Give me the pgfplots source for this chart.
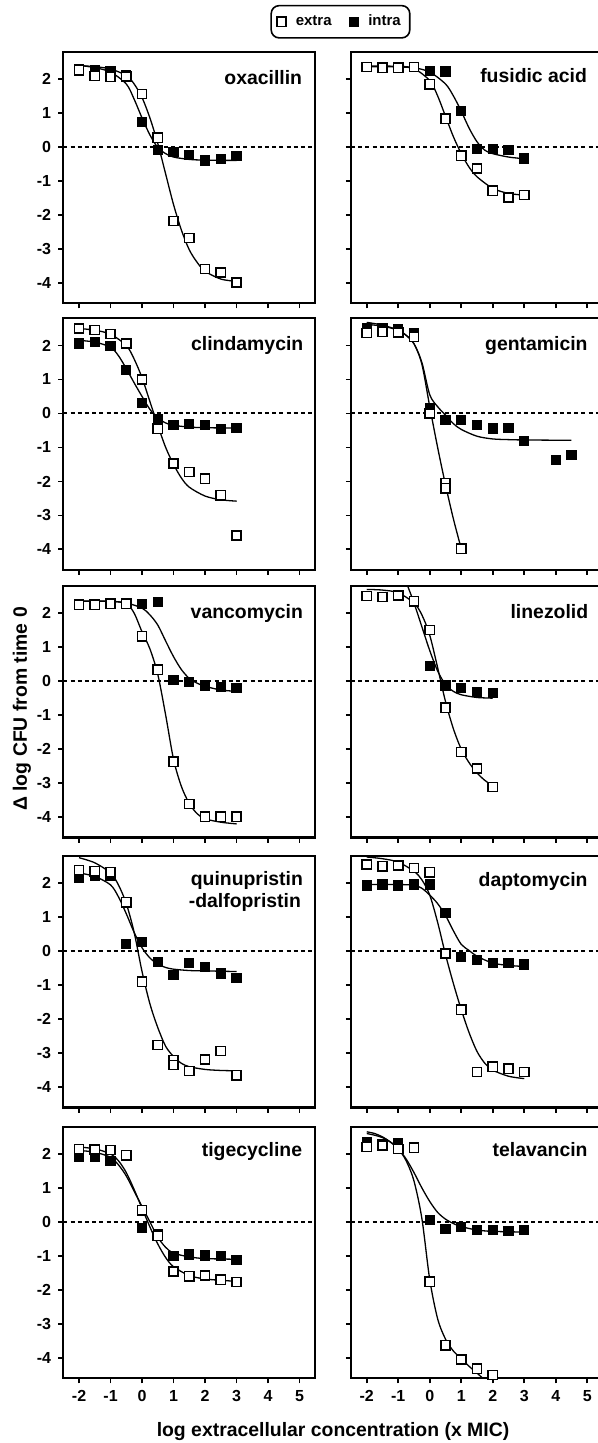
\documentclass[border=0pt]{standalone}
\usepackage{pgfplots}
\pgfplotsset{compat=1.18}
\usepackage{fontspec}
\setmainfont{Liberation Sans}
\pgfplotsset{
  panel/.style={scale only axis, width=126pt, height=125.75pt,
    xmin=-2.5, xmax=5.5, ymin=-4.6, ymax=2.8,
    xtick={-2,-1,0,1,2,3,4,5}, ytick={-4,-3,-2,-1,0,1,2},
    xticklabels={}, yticklabels={},
    tick align=outside, xtick pos=bottom, ytick pos=left,
    major tick length=2.6pt,
    axis line style={line width=1.1pt},
    major tick style={line width=0.9pt, black},
    tick label style={font=\bfseries\fontsize{8}{9.6}\selectfont},
    clip=true},
  ext/.style={only marks, mark=square*, mark size=2.3pt,
    mark options={fill=white, draw=black, line width=0.7pt, sharp corners, solid}},
  int/.style={only marks, mark=square*, mark size=2.3pt,
    mark options={fill=black, draw=black, line width=0.5pt, sharp corners, solid}},
  fit/.style={smooth, black, line width=0.65pt, no marks, forget plot},
  zero/.style={black, line width=1pt, dash pattern=on 2pt off 1.6pt, no marks, forget plot},
}
\newcommand{\ttl}{\bfseries\fontsize{9.7}{11.5}\selectfont}
\begin{document}
\begin{tikzpicture}
\useasboundingbox (0,0) rectangle (299pt,721.5pt);
\clip (0,0) rectangle (299pt,721.5pt);

% ---------- Row 1 left: oxacillin
\begin{axis}[panel, at={(31.65pt,569.9pt)}, yticklabels={-4,-3,-2,-1,0,1,2},
  legend columns=2,
  legend style={at={(1.1,1.119)}, anchor=center, draw=black, line width=0.8pt,
    rounded corners=4pt, font=\bfseries\fontsize{7.5}{9}\selectfont,
    inner xsep=2.5pt, inner ysep=2.6pt,
    /tikz/every even column/.append style={column sep=6.5pt}},
  legend image code/.code={\draw[#1] plot coordinates {(0pt,0pt)};\path[draw=none,fill=none] (-2.6pt,0pt) (5.2pt,0pt);}]
\addlegendimage{ext}\addlegendentry{extra}
\addlegendimage{int}\addlegendentry{intra}
\addplot[zero] coordinates {(-2.5,0) (5.5,0)};
\addplot[fit] coordinates {(-2,2.39)(-1.5,2.36)(-1,2.29)(-0.5,2.1)(-0.25,1.85)(0,1.45)(0.25,0.85)(0.5,0.1)(0.75,-0.8)(1,-1.7)(1.25,-2.45)(1.5,-3.03)(1.75,-3.4)(2,-3.66)(2.5,-3.89)(3,-3.96)};
\addplot[fit] coordinates {(-2,2.4)(-1.5,2.33)(-1,2.2)(-0.5,1.85)(-0.25,1.4)(0,0.85)(0.25,0.35)(0.5,-0.02)(0.75,-0.2)(1,-0.3)(1.5,-0.37)(2,-0.39)(3,-0.4)};
\addplot[int, forget plot] coordinates {(-2,2.3)(-1.5,2.25)(-1,2.22)(-0.5,2.1)(0,0.72)(0.5,-0.09)(1,-0.15)(1.5,-0.25)(2,-0.4)(2.5,-0.36)(3,-0.27)};
\addplot[ext, forget plot] coordinates {(-2,2.25)(-1.5,2.08)(-1,2.06)(-0.5,2.07)(0,1.55)(0.5,0.27)(1,-2.18)(1.5,-2.68)(2,-3.6)(2.5,-3.7)(3,-3.99)};
\node[anchor=base east, inner sep=0pt, xshift=-6.4pt, yshift=-16.2pt, font=\ttl] at (rel axis cs:1,1) {oxacillin};
\end{axis}

% ---------- Row 1 right: fusidic acid
\begin{axis}[panel, at={(175.5pt,569.9pt)}]
\addplot[zero] coordinates {(-2.5,0) (5.5,0)};
\addplot[fit] coordinates {(-2,2.36)(-1,2.35)(-0.5,2.3)(0,1.95)(0.25,1.5)(0.5,0.9)(0.75,0.3)(1,-0.2)(1.25,-0.6)(1.5,-0.88)(2,-1.22)(2.5,-1.37)(3,-1.42)};
\addplot[fit] coordinates {(-2,2.38)(-1,2.37)(-0.5,2.33)(0,2.2)(0.5,1.85)(0.75,1.5)(1,1.05)(1.25,0.55)(1.5,0.15)(1.75,-0.1)(2,-0.2)(2.5,-0.3)(3,-0.35)};
\addplot[int] coordinates {(-2,2.35)(-1.5,2.33)(-1,2.33)(-0.5,2.35)(0,2.24)(0.5,2.22)(1,1.05)(1.5,-0.07)(2,-0.07)(2.5,-0.09)(3,-0.34)};
\addplot[ext] coordinates {(-2,2.35)(-1.5,2.33)(-1,2.33)(-0.5,2.35)(0,1.84)(0.5,0.83)(1,-0.26)(1.5,-0.64)(2,-1.29)(2.5,-1.49)(3,-1.42)};
\node[anchor=base east, inner sep=0pt, xshift=-7.8pt, yshift=-15.5pt, font=\ttl] at (rel axis cs:1,1) {fusidic acid};
\end{axis}

% ---------- Row 2 left: clindamycin
\begin{axis}[panel, at={(31.65pt,436.6pt)}, yticklabels={-4,-3,-2,-1,0,1,2}]
\addplot[zero] coordinates {(-2.5,0) (5.5,0)};
\addplot[fit] coordinates {(-2,2.5)(-1.5,2.45)(-1,2.33)(-0.5,2.0)(-0.25,1.6)(0,1.05)(0.25,0.35)(0.5,-0.35)(0.75,-1.0)(1,-1.5)(1.25,-1.9)(1.5,-2.17)(2,-2.43)(2.5,-2.54)(3,-2.58)};
\addplot[fit] coordinates {(-2,2.15)(-1.5,2.1)(-1,1.95)(-0.75,1.7)(-0.5,1.32)(-0.25,0.9)(0,0.5)(0.25,0.12)(0.5,-0.13)(0.75,-0.28)(1,-0.35)(1.5,-0.4)(2,-0.42)(3,-0.43)};
\addplot[int] coordinates {(-2,2.06)(-1.5,2.11)(-1,1.98)(-0.5,1.27)(0,0.31)(0.5,-0.18)(1,-0.35)(1.5,-0.32)(2,-0.35)(2.5,-0.45)(3,-0.43)};
\addplot[ext] coordinates {(-2,2.5)(-1.5,2.45)(-1,2.34)(-0.5,2.06)(0,1.0)(0.5,-0.45)(1,-1.47)(1.5,-1.72)(2,-1.92)(2.5,-2.41)(3,-3.59)};
\node[anchor=base east, inner sep=0pt, xshift=-5.8pt, yshift=-16pt, font=\ttl] at (rel axis cs:1,1) {clindamycin};
\end{axis}

% ---------- Row 2 right: gentamicin
\begin{axis}[panel, at={(175.5pt,436.6pt)}]
\addplot[zero] coordinates {(-2.5,0) (5.5,0)};
\addplot[fit] coordinates {(-2,2.68)(-1.5,2.6)(-1,2.45)(-0.75,2.3)(-0.5,2.05)(-0.25,1.45)(0,0.2)(0.25,-1.0)(0.5,-2.1)(0.75,-3.1)(1,-3.98)};
\addplot[fit] coordinates {(-2,2.62)(-1.5,2.57)(-1,2.45)(-0.75,2.3)(-0.5,2.05)(-0.25,1.5)(0,0.55)(0.25,0.2)(0.5,-0.05)(0.75,-0.3)(1,-0.47)(1.5,-0.67)(2,-0.75)(2.5,-0.77)(3,-0.78)(4.5,-0.79)};
\addplot[int] coordinates {(-2,2.52)(-1.5,2.52)(-1,2.49)(-0.5,2.37)(0,0.17)(0.5,-0.2)(1,-0.2)(1.5,-0.35)(2,-0.44)(2.5,-0.42)(3,-0.82)(4,-1.38)(4.5,-1.23)};
\addplot[ext] coordinates {(-2,2.37)(-1.5,2.4)(-1,2.38)(-0.5,2.25)(0,0.0)(0.5,-2.05)(0.5,-2.2)(1,-3.98)};
\node[anchor=base east, inner sep=0pt, xshift=-7.5pt, yshift=-16pt, font=\ttl] at (rel axis cs:1,1) {gentamicin};
\end{axis}

% ---------- Row 3 left: vancomycin
\begin{axis}[panel, at={(31.65pt,302.75pt)}, yticklabels={-4,-3,-2,-1,0,1,2}]
\addplot[zero] coordinates {(-2.5,0) (5.5,0)};
\addplot[fit] coordinates {(-2,2.35)(-1,2.35)(-0.5,2.28)(-0.25,2.0)(0,1.45)(0.25,0.95)(0.5,0.2)(0.75,-1.0)(1,-2.3)(1.25,-3.1)(1.5,-3.6)(1.75,-3.9)(2,-4.05)(2.5,-4.15)(3,-4.2)};
\addplot[fit] coordinates {(-2,2.36)(-1,2.35)(-0.5,2.3)(0,2.15)(0.25,1.95)(0.5,1.65)(0.75,1.18)(1,0.72)(1.25,0.34)(1.5,0.08)(1.75,-0.06)(2,-0.15)(2.5,-0.26)(3,-0.3)};
\addplot[int] coordinates {(-2,2.28)(-1.5,2.28)(-1,2.3)(-0.5,2.28)(0,2.28)(0.5,2.33)(1,0.03)(1.5,-0.02)(2,-0.13)(2.5,-0.17)(3,-0.2)};
\addplot[ext] coordinates {(-2,2.25)(-1.5,2.25)(-1,2.28)(-0.5,2.28)(0,1.32)(0.5,0.34)(1,-2.37)(1.5,-3.61)(2,-3.99)(2.5,-3.99)(3,-3.99)};
\node[anchor=base east, inner sep=0pt, xshift=-6pt, yshift=-16pt, font=\ttl] at (rel axis cs:1,1) {vancomycin};
\end{axis}

% ---------- Row 3 right: linezolid
\begin{axis}[panel, at={(175.5pt,302.75pt)}]
\addplot[zero] coordinates {(-2.5,0) (5.5,0)};
\addplot[fit] coordinates {(-2,2.7)(-1.5,2.68)(-1,2.6)(-0.5,2.3)(-0.25,1.95)(0,1.35)(0.25,0.4)(0.5,-0.6)(0.75,-1.4)(1,-2.0)(1.25,-2.4)(1.5,-2.7)(1.75,-2.92)(2,-3.08)};
\addplot[fit] coordinates {(-1.25,3.6)(-1,3.3)(-0.75,2.9)(-0.5,2.3)(-0.25,1.6)(0,0.9)(0.25,0.3)(0.5,-0.1)(0.75,-0.3)(1,-0.4)(1.5,-0.48)(2,-0.5)};
\addplot[int] coordinates {(-2,2.5)(-1.5,2.48)(-1,2.5)(-0.5,2.35)(0,0.44)(0.5,-0.13)(1,-0.2)(1.5,-0.31)(2,-0.34)};
\addplot[ext] coordinates {(-2,2.5)(-1.5,2.48)(-1,2.52)(-0.5,2.35)(0,1.5)(0.5,-0.78)(1,-2.09)(1.5,-2.57)(2,-3.11)};
\node[anchor=base east, inner sep=0pt, xshift=-7.2pt, yshift=-16pt, font=\ttl] at (rel axis cs:1,1) {linezolid};
\end{axis}

% ---------- Row 4 left: quinupristin-dalfopristin
\begin{axis}[panel, at={(31.65pt,167.75pt)}, yticklabels={-4,-3,-2,-1,0,1,2}]
\addplot[zero] coordinates {(-2.5,0) (5.5,0)};
\addplot[fit] coordinates {(-2,2.75)(-1.5,2.6)(-1,2.3)(-0.75,1.95)(-0.5,1.4)(-0.25,0.55)(0,-0.6)(0.25,-1.55)(0.5,-2.25)(0.75,-2.8)(1,-3.1)(1.25,-3.3)(1.5,-3.4)(2,-3.48)(2.5,-3.51)(3,-3.52)};
\addplot[fit] coordinates {(-2,2.3)(-1.5,2.2)(-1,1.95)(-0.75,1.6)(-0.5,1.1)(-0.25,0.55)(0,0.1)(0.25,-0.2)(0.5,-0.38)(0.75,-0.48)(1,-0.53)(1.5,-0.57)(2,-0.58)(3,-0.6)};
\addplot[int] coordinates {(-2,2.16)(-1.5,2.2)(-1,2.2)(-0.5,0.2)(0,0.26)(0.5,-0.31)(1,-0.69)(1.5,-0.36)(2,-0.46)(2.5,-0.66)(3,-0.78)};
\addplot[ext] coordinates {(-2,2.38)(-1.5,2.35)(-1,2.32)(-0.5,1.44)(0,-0.9)(0.5,-2.76)(1,-3.2)(1,-3.35)(1.5,-3.53)(2,-3.19)(2.5,-2.94)(3,-3.65)};
\node[anchor=base east, inner sep=0pt, xshift=-6pt, yshift=-14.5pt, font=\ttl] at (rel axis cs:1,1) {quinupristin};
\node[anchor=base east, inner sep=0pt, xshift=-7pt, yshift=-25.6pt, font=\ttl] at (rel axis cs:1,1) {-dalfopristin};
\end{axis}

% ---------- Row 4 right: daptomycin
\begin{axis}[panel, at={(175.5pt,167.75pt)}]
\addplot[zero] coordinates {(-2.5,0) (5.5,0)};
\addplot[fit] coordinates {(-2,2.77)(-1.5,2.72)(-1,2.62)(-0.5,2.35)(-0.25,2.1)(0,1.65)(0.25,0.85)(0.5,-0.1)(0.75,-0.95)(1,-1.72)(1.25,-2.4)(1.5,-2.95)(1.75,-3.3)(2,-3.5)(2.5,-3.68)(3,-3.75)};
\addplot[fit] coordinates {(-2,1.96)(-1,1.96)(-0.5,1.94)(-0.25,1.85)(0,1.65)(0.25,1.4)(0.5,1.05)(0.75,0.6)(1,0.2)(1.25,0.02)(1.5,-0.15)(2,-0.35)(2.5,-0.42)(3,-0.45)};
\addplot[int] coordinates {(-2,1.93)(-1.5,1.96)(-1,1.93)(-0.5,1.96)(0,1.96)(0.5,1.13)(1,-0.17)(1.5,-0.26)(2,-0.36)(2.5,-0.34)(3,-0.39)};
\addplot[ext] coordinates {(-2,2.55)(-1.5,2.5)(-1,2.52)(-0.5,2.45)(0,2.32)(0.5,-0.07)(1,-1.72)(1.5,-3.56)(2,-3.4)(2.5,-3.46)(3,-3.56)};
\node[anchor=base east, inner sep=0pt, xshift=-7.5pt, yshift=-15pt, font=\ttl] at (rel axis cs:1,1) {daptomycin};
\end{axis}

% ---------- Row 5 left: tigecycline
\begin{axis}[panel, at={(31.65pt,32.4pt)}, yticklabels={-4,-3,-2,-1,0,1,2}, xticklabels={-2,-1,0,1,2,3,4,5}]
\addplot[zero] coordinates {(-2.5,0) (5.5,0)};
\addplot[fit] coordinates {(-2,2.2)(-1.5,2.15)(-1,2.0)(-0.75,1.8)(-0.5,1.45)(-0.25,0.95)(0,0.4)(0.25,-0.15)(0.5,-0.65)(0.75,-1.05)(1,-1.32)(1.5,-1.58)(2,-1.68)(2.5,-1.72)(3,-1.75)};
\addplot[fit] coordinates {(-2,2.1)(-1.5,2.05)(-1,1.9)(-0.75,1.68)(-0.5,1.35)(-0.25,0.9)(0,0.45)(0.25,0.0)(0.5,-0.45)(0.75,-0.75)(1,-0.92)(1.5,-1.03)(2,-1.08)(3,-1.1)};
\addplot[int] coordinates {(-2,1.91)(-1.5,1.9)(-1,1.8)(-0.5,1.93)(0,-0.18)(0.5,-0.35)(1,-1.01)(1.5,-0.96)(2,-0.99)(2.5,-1.01)(3,-1.13)};
\addplot[ext] coordinates {(-2,2.15)(-1.5,2.13)(-1,2.11)(-0.5,1.96)(0,0.34)(0.5,-0.42)(1,-1.46)(1.5,-1.6)(2,-1.58)(2.5,-1.7)(3,-1.77)};
\node[anchor=base east, inner sep=0pt, xshift=-6.4pt, yshift=-15pt, font=\ttl] at (rel axis cs:1,1) {tigecycline};
\end{axis}

% ---------- Row 5 right: telavancin
\begin{axis}[panel, at={(175.5pt,32.4pt)}, xticklabels={-2,-1,0,1,2,3,4,5}]
\addplot[zero] coordinates {(-2.5,0) (5.5,0)};
\addplot[fit] coordinates {(-2,2.65)(-1.75,2.6)(-1.5,2.5)(-1.25,2.35)(-1,2.15)(-0.75,1.8)(-0.5,1.2)(-0.25,0.1)(0,-1.7)(0.25,-2.85)(0.5,-3.45)(0.75,-3.8)(1,-4.02)(1.25,-4.25)(1.5,-4.45)(1.75,-4.65)(2,-4.8)};
\addplot[fit] coordinates {(-2,2.6)(-1.75,2.55)(-1.5,2.48)(-1.25,2.35)(-1,2.15)(-0.75,1.85)(-0.5,1.45)(-0.25,1.0)(0,0.6)(0.25,0.28)(0.5,0.08)(0.75,-0.05)(1,-0.14)(1.5,-0.24)(2,-0.28)(3,-0.3)};
\addplot[int] coordinates {(-2,2.34)(-1.5,2.3)(-1,2.32)(-0.5,2.2)(0,0.05)(0.5,-0.2)(1,-0.15)(1.5,-0.25)(2,-0.25)(2.5,-0.27)(3,-0.25)};
\addplot[ext] coordinates {(-2,2.2)(-1.5,2.25)(-1,2.15)(-0.5,2.18)(0,-1.76)(0.5,-3.63)(1,-4.05)(1.5,-4.32)(2,-4.5)};
\node[anchor=base east, inner sep=0pt, xshift=-7.5pt, yshift=-15pt, font=\ttl] at (rel axis cs:1,1) {telavancin};
\end{axis}

\node[anchor=base, inner sep=0pt, font=\ttl] at (166.5pt,3.3pt) {log extracellular concentration (x MIC)};
\node[anchor=center, inner sep=0pt, rotate=90, font=\ttl] at (11pt,367pt) {Δ log CFU from time 0};
\end{tikzpicture}
\end{document}
